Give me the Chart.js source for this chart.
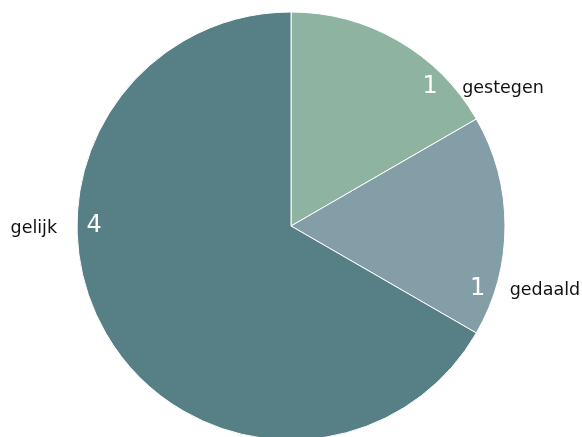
<!DOCTYPE html>
<html>
<head>
<meta charset="utf-8">
<script src="https://cdn.jsdelivr.net/npm/chart.js@4/dist/chart.umd.min.js"></script>
<style>
  html, body { margin: 0; padding: 0; background: #fff; }
  #wrap { width: 582px; height: 437px; }
</style>
</head>
<body>
<div id="wrap"><canvas id="myChart"></canvas></div>
<script>
var labels = ['gestegen', 'gedaald', 'gelijk'];
var counts = [1, 1, 4];
var colors = ['#8fb3a1', '#849ea7', '#567f86'];
// where each label sits, in degrees clockwise from the top
var labelAngles = [45, 108.5, 270];

// white count inside the slice, name in black beside it
var sliceLabels = {
    id: 'sliceLabels',
    afterDatasetsDraw: function(chart) {
        var ctx = chart.ctx;
        var arcs = chart.getDatasetMeta(0).data;
        ctx.save();
        ctx.textBaseline = 'middle';
        arcs.forEach(function(arc, i) {
            var a = (labelAngles[i] - 90) * Math.PI / 180;
            var r = arc.outerRadius * 0.92;
            var x = arc.x + Math.cos(a) * r;
            var y = arc.y + Math.sin(a) * r;
            var right = Math.cos(a) >= 0;
            ctx.fillStyle = '#fff';
            ctx.textAlign = 'center';
            ctx.font = '24px "DejaVu Sans"';
            ctx.fillText(String(counts[i]), x, y);
            ctx.fillStyle = '#111';
            ctx.font = '17.5px "DejaVu Sans"';
            ctx.textAlign = right ? 'left' : 'right';
            ctx.fillText(labels[i], x + (right ? 32 : -37), y + 2);
        });
        ctx.restore();
    }
};

var ctx = document.getElementById('myChart').getContext('2d');
var chart = new Chart(ctx, {
    type: 'pie',
    data: {
        labels: labels,
        datasets: [{
            data: counts,
            backgroundColor: colors,
            borderColor: '#fff',
            borderWidth: 1
        }]
    },
    options: {
        responsive: true,
        maintainAspectRatio: false,
        animation: false,
        radius: 214,
        layout: { padding: { top: 15, bottom: 0, left: 0, right: 0 } },
        plugins: {
            legend: { display: false },
            tooltip: { enabled: false }
        }
    },
    plugins: [sliceLabels]
});
</script>
</body>
</html>
